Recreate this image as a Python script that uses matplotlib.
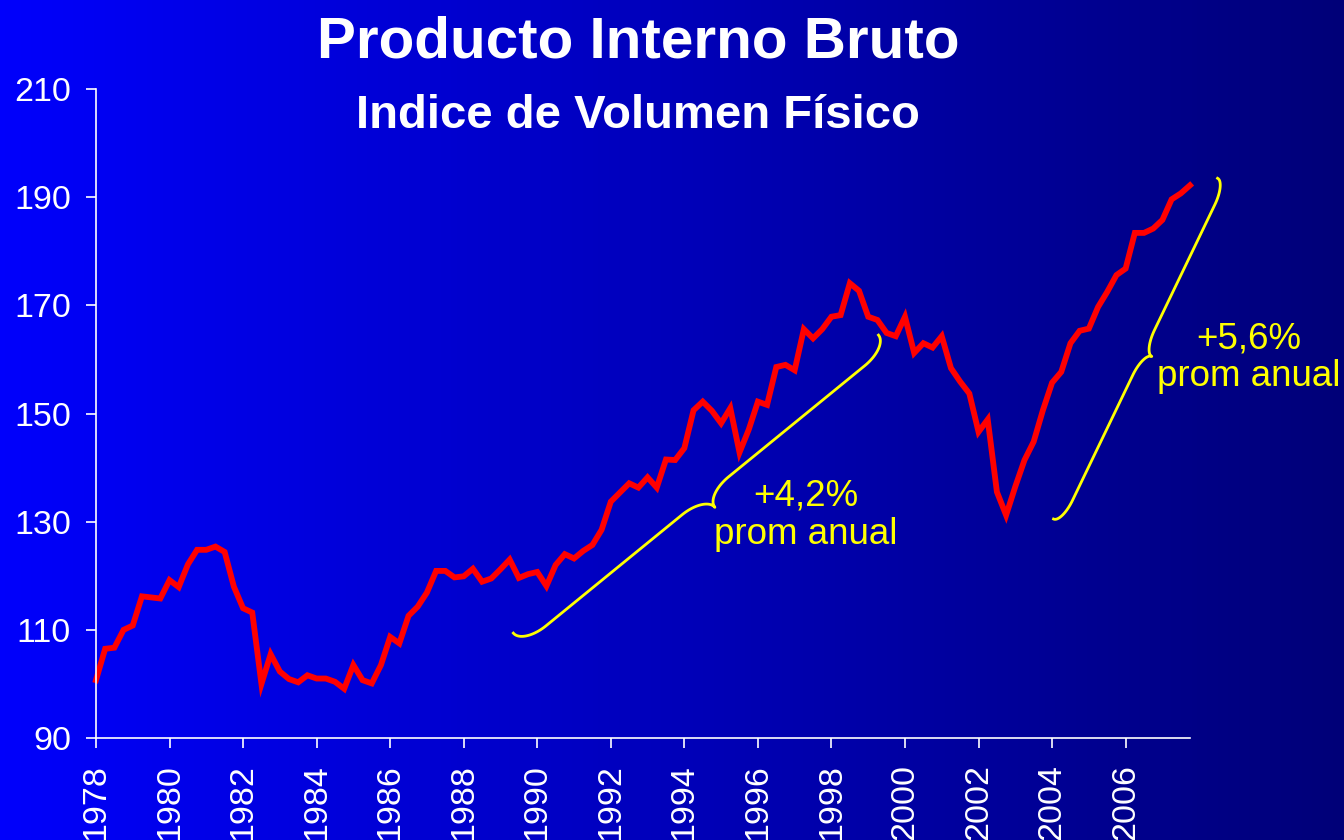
import numpy as np
import matplotlib
matplotlib.use("Agg")
import matplotlib.pyplot as plt

plt.rcParams['font.family'] = ['Liberation Sans', 'DejaVu Sans']

# quarterly index, 1978Q1 .. 2007Q4
start_year = 1978
pib = [100.7, 106.5, 106.7, 110.0, 110.8, 116.2, 116.0, 115.8,
       119.2, 117.9, 122.1, 124.8, 124.8, 125.4, 124.4, 118.0,
       114.0, 113.2, 100.0, 105.5, 102.3, 100.9, 100.3, 101.6,
       101.0, 101.0, 100.4, 99.1, 103.5, 100.7, 100.1, 103.5,
       108.7, 107.5, 112.6, 114.3, 116.9, 120.9, 120.9, 119.7,
       119.9, 121.3, 118.9, 119.5, 121.2, 123.0, 119.6, 120.3,
       120.7, 118.1, 122.0, 124.0, 123.2, 124.6, 125.7, 128.5,
       133.7, 135.4, 137.1, 136.3, 138.2, 136.3, 141.5, 141.4,
       143.6, 150.6, 152.2, 150.5, 148.2, 151.0, 142.8, 147.0,
       152.2, 151.6, 158.6, 159.0, 158.0, 165.6, 163.9, 165.6,
       167.9, 168.2, 174.1, 172.7, 167.9, 167.3, 164.9, 164.3,
       167.9, 161.2, 163.0, 162.2, 164.3, 158.4, 155.9, 153.7,
       146.6, 148.9, 135.5, 131.2, 136.5, 141.4, 144.8, 150.6,
       155.7, 157.7, 163.0, 165.3, 165.7, 169.7, 172.5, 175.6,
       176.8, 183.4, 183.4, 184.2, 185.8, 189.6, 190.7, 192.2]
years = start_year + np.arange(len(pib)) / 4.0
year_ticks = list(range(1978, 2007, 2))
value_ticks = list(range(90, 211, 20))

fig = plt.figure(figsize=(13.44, 8.4), dpi=100)

# horizontal blue gradient background
bg = fig.add_axes([0, 0, 1, 1], zorder=-10)
blue = np.linspace(252, 120, 256) / 255.0
grad = np.zeros((1, 256, 3))
grad[0, :, 2] = blue
bg.imshow(grad, aspect='auto', extent=[0, 1, 0, 1])
bg.axis('off')

ax = fig.add_axes([0.0714, 0.1214, 0.8140, 0.7726])
ax.set_facecolor('none')
ax.plot(years, pib, color='#ff0000', lw=4.2, solid_joinstyle='miter', clip_on=False)

ax.set_xlim(1978, start_year + (len(pib) - 1) / 4.0)
ax.set_ylim(90, 210)
ax.set_xticks(year_ticks)
ax.set_xticklabels([str(y) for y in year_ticks], rotation=90, va='top')
ax.set_yticks(value_ticks)
for s in ['top', 'right']:
    ax.spines[s].set_visible(False)
for s in ['left', 'bottom']:
    ax.spines[s].set_color('white')
    ax.spines[s].set_linewidth(1.2)
ax.tick_params(axis='both', colors='white', labelsize=24.5, length=7, width=1.2,
               direction='out')
ax.tick_params(axis='y', pad=11)
ax.tick_params(axis='x', pad=12)


def draw_brace(ax, p0, p1, rv, ru, **kw):
    T = ax.transData
    a = T.transform(p0)
    b = T.transform(p1)
    d = b - a
    L = np.hypot(*d)
    d = d / L
    n = np.array([d[1], -d[0]])
    t = np.linspace(0, np.pi / 2, 30)
    u1 = ru * (1 - np.cos(t))
    v1 = rv * np.sin(t)
    u2 = L / 2 - ru + ru * np.sin(t)
    v2 = rv + rv * (1 - np.cos(t))
    u = np.concatenate([u1, u2])
    v = np.concatenate([v1, v2])
    u = np.concatenate([u, (L - u)[::-1]])
    v = np.concatenate([v, v[::-1]])
    pts = a + np.outer(u, d) + np.outer(v, n)
    xy = T.inverted().transform(pts)
    ax.plot(xy[:, 0], xy[:, 1], clip_on=False, **kw)


draw_brace(ax, (1989.35, 109.4), (1999.28, 164.5), 15, 30, color='#ffff00', lw=2)
draw_brace(ax, (2004.04, 130.5), (2008.5, 193.5), 9, 25, color='#ffff00', lw=2)

ax.text(1997.29, 131.2, '+4,2%\nprom anual', color='#ffff00', fontsize=26.5,
        ha='center', va='center', linespacing=1.1)
ax.text(2009.35, 160.3, '+5,6%\nprom anual', color='#ffff00', fontsize=26.5,
        ha='center', va='center', linespacing=1.1)

fig.text(0.4747, 0.932, 'Producto Interno Bruto', color='white', fontsize=42,
         fontweight='bold', ha='center', va='baseline')
fig.text(0.4747, 0.8476, 'Indice de Volumen Físico', color='white', fontsize=34,
         fontweight='bold', ha='center', va='baseline')

fig.savefig('out.png', dpi=100)
